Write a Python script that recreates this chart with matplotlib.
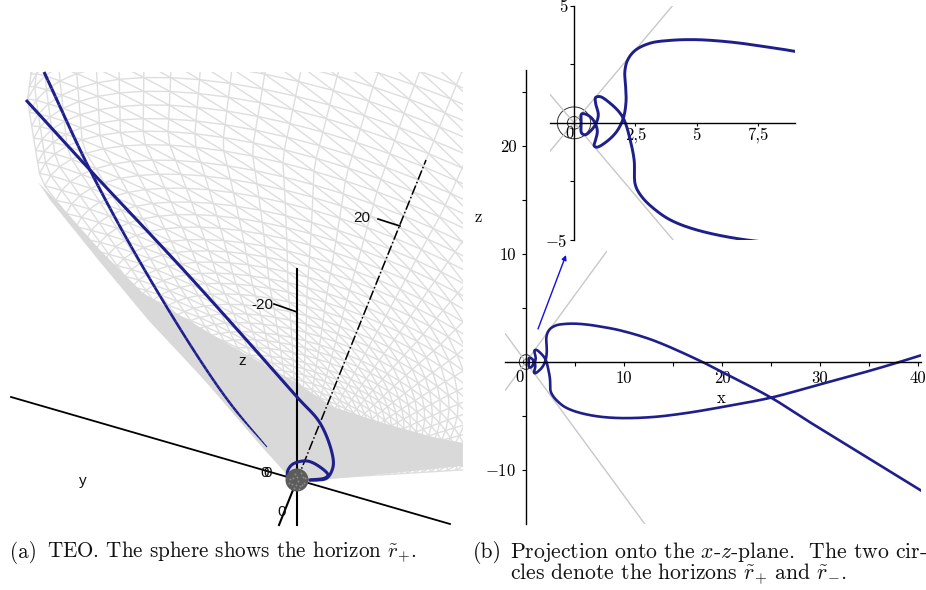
import matplotlib
matplotlib.use("Agg")
import matplotlib.pyplot as plt
from matplotlib.collections import LineCollection
from matplotlib.patches import Circle, Polygon
import numpy as np

W, H = 926, 590
plt.rcParams['mathtext.fontset'] = 'cm'
plt.rcParams['axes.unicode_minus'] = False

BLUE = '#1f1f8c'
MESH = '#dedede'
SOLID = '#d9d9d9'

# panel (b): curve in x, z
curve_x = [40.3, 35, 30, 25, 20, 18, 13, 9.6, 7.73, 6.37, 5.0, 3.92, 3.10, 2.49, 2.18, 2.07, 2.10,
           2.12, 2.01, 1.74, 1.33, 0.93, 0.82, 0.86, 0.95, 0.88, 0.72, 0.48, 0.31, 0.29, 0.31, 0.45, 0.65, 0.88,
           0.99, 0.88, 0.88, 1.06, 1.47, 1.88, 2.08, 2.29, 2.45, 2.50, 2.76, 3.24, 3.92, 5.0, 7.05, 9.6, 13, 16.4,
           20, 25, 30, 35, 38.1, 40.3]
curve_z = [-11.9, -8.95, -6.17, -3.3, -0.93, 0, 2.0, 2.93, 3.26, 3.45, 3.55, 3.52, 3.40, 3.09, 2.67, 2.17, 1.62,
           0.91, 0.20, -0.37, -0.80, -1.04, -0.98, -0.80, -0.37, -0.06, 0.20, 0.37, 0.38, 0.06, -0.44, -0.51, -0.37, -0.06,
           0.34, 0.84, 1.08, 1.12, 0.84, 0.41, 0.03, -0.73, -1.58, -2.65, -3.15, -3.65, -4.14, -4.57, -5.0, -5.19, -5.09, -4.72,
           -4.17, -3.3, -2.07, -0.83, 0, 0.62]
horizons = [0.68, 0.27]
rising_x = [-2.1, 8.2]
rising_z = [-2.6, 10.2]
falling_x = [-2.1, 12.2]
falling_z = [2.6, -15.1]

main_xticks = [5, 10, 15, 20, 25, 30, 35, 40]
main_xlabels = ['', '10', '', '20', '', '30', '', '40']
main_zticks = [-10, -5, 5, 10, 15, 20, 25]
main_zlabels = ['$-10$', '', '', '10', '', '20', '']
inset_xticks = [2.5, 5, 7.5]
inset_xlabels = ['2,5', '5', '7,5']
inset_zticks = [-5, -2.5, 2.5, 5]
inset_zlabels = ['$-5$', '', '', '5']

strand_one_x = [26, 90, 190, 297, 320, 332, 333, 327, 318, 310]
strand_one_y = [100, 170, 277, 397, 423, 453, 467, 478, 480, 480]
strand_two_x = [44, 90, 140, 200, 233, 267]
strand_two_y = [72, 170, 262, 360, 407, 447]
loop_x = [287, 288, 293, 307, 320, 328, 325, 310]
loop_y = [476, 470, 464, 461, 467, 475, 478, 480]
solid_x = [38, 60, 100, 143, 183, 233, 297, 333, 383, 433, 463, 463, 310, 290, 262, 200, 150, 100, 50]
solid_y = [182, 205, 250, 293, 317, 347, 383, 407, 423, 437, 443, 466, 481, 478, 447, 375, 322, 262, 200]
ring_tips = [0, 20, 40, 60, 70, 75, 80, 85, 90, 96, 102, 108, 114, 121, 128, 135, 143, 151, 159, 168, 177, 186,
             196, 206, 216, 227, 238, 249, 261, 273, 285, 298, 311, 324, 338, 352, 366, 381, 396, 411, 426, 441,
             456, 471, 486, 501, 516, 531, 546, 561, 576, 591, 606, 621, 636]
tip_stops = [0, 150, 300, 450, 640]
tip_share = [0.50, 0.54, 0.60, 0.66, 0.68]
ring_centre = [0, 100, 182, 251, 320, 440]
ring_width = [0, 210, 350, 392, 410, 420]
speck_x = [-5, 3, 6, -2, 1, -7, 7, -3, 4, 0, -8, 8, 2, -4, 5, -1]
speck_y = [4, 6, -3, -6, 1, -1, 3, 8, -7, -3, 3, -2, 9, -2, 5, 5]


def smooth(xs, ys, n=12):
    # centripetal catmull-rom through the read points, only to round the drawn line
    p = np.column_stack([xs, ys]).astype(float)
    p = np.vstack([2 * p[0] - p[1], p, 2 * p[-1] - p[-2]])
    out = []
    for i in range(1, len(p) - 2):
        t0 = 0.0
        t1 = t0 + np.linalg.norm(p[i] - p[i - 1]) ** 0.5
        t2 = t1 + np.linalg.norm(p[i + 1] - p[i]) ** 0.5
        t3 = t2 + np.linalg.norm(p[i + 2] - p[i + 1]) ** 0.5
        for s in np.linspace(t1, t2, n, endpoint=False):
            a1 = ((t1 - s) * p[i - 1] + (s - t0) * p[i]) / (t1 - t0)
            a2 = ((t2 - s) * p[i] + (s - t1) * p[i + 1]) / (t2 - t1)
            a3 = ((t3 - s) * p[i + 1] + (s - t2) * p[i + 2]) / (t3 - t2)
            b1 = ((t2 - s) * a1 + (s - t0) * a2) / (t2 - t0)
            b2 = ((t3 - s) * a2 + (s - t1) * a3) / (t3 - t1)
            out.append(((t2 - s) * b1 + (s - t1) * b2) / (t2 - t1))
    out.append(p[-2])
    out = np.array(out)
    return out[:, 0], out[:, 1]


def px_axes(fig, left, top, right, bottom):
    return fig.add_axes([left / W, 1 - bottom / H, (right - left) / W, (bottom - top) / H])


fig = plt.figure(figsize=(W / 100, H / 100), dpi=100)

# mesh of the 3D surface, clipped to the view box
ax_mesh = px_axes(fig, 0, 72, 463, 530)
ax_mesh.set_xlim(0, 463)
ax_mesh.set_ylim(530, 72)
ax_mesh.axis('off')

apex = np.array([297.0, 480.0])
v = np.array([0.374, -0.927])
u = np.array([0.927, 0.374])
tips = np.array(ring_tips, dtype=float)
s0 = tips * np.interp(tips, tip_stops, tip_share)
a = np.interp(s0, ring_centre, ring_width)
b = tips - s0
t = np.linspace(0, np.pi, 33)
grid = np.empty((len(tips), len(t), 2))
for i in range(len(tips)):
    for j in range(len(t)):
        grid[i, j] = apex + s0[i] * v + a[i] * np.cos(t[j]) * u + b[i] * np.sin(t[j]) * v
lines = [grid[i] for i in range(len(tips))]
lines += [grid[:, j] for j in range(len(t))]
for i in range(len(tips) - 1):
    for j in range(len(t) - 1):
        lines.append([grid[i, j], grid[i + 1, j + 1]])
ax_mesh.add_collection(LineCollection(lines, colors=MESH, linewidths=1.0, zorder=1))
ax_mesh.add_patch(Polygon(np.column_stack([solid_x, solid_y]), closed=True, fc=SOLID, ec='none', zorder=2))

# everything else of panel (a) and the captions, in screen positions
ax = px_axes(fig, 0, 0, W, H)
ax.set_xlim(0, W)
ax.set_ylim(H, 0)
ax.axis('off')
ax.plot([297, 297], [269, 525], color='black', lw=1.5)
ax.plot([274, 297], [304, 312], color='black', lw=1.2)
ax.plot([11, 450], [397, 524], color='black', lw=1.3)
ax.plot([279, 297], [525, 480], color='black', lw=1.5)
ax.plot([297, 426], [480, 160], color='black', lw=1.1, ls='-.')
ax.plot([378, 400], [219, 226], color='black', lw=1.2)

# the far strand thins out towards the sphere
sx, sy = smooth(strand_two_x, strand_two_y)
pts = np.column_stack([sx, sy])
widths = np.interp(sy[:-1], [72, 410, 447], [2.2, 1.8, 0.7])
ax.add_collection(LineCollection([pts[k:k + 2] for k in range(len(pts) - 1)], colors=BLUE, linewidths=widths))
sx, sy = smooth(strand_one_x, strand_one_y)
ax.plot(sx, sy, color=BLUE, lw=2.2, solid_capstyle='butt')
sx, sy = smooth(loop_x, loop_y)
ax.plot(sx, sy, color=BLUE, lw=2.2)

ax.add_patch(Circle((297, 480), 11.5, fc='#5c5c5c', ec='none', zorder=5))
ax.scatter(297 + np.array(speck_x), 480 + np.array(speck_y), s=2, color='#8a8a8a', lw=0, zorder=6)

sans = dict(family='Liberation Sans', fontsize=11, color='#111111', ha='center', va='center')
ax.text(262, 305, '-20', **sans)
ax.text(362, 218, '20', **sans)
ax.text(242, 361, 'z', **sans)
ax.text(83, 481, 'y', **sans)
ax.text(265, 473, '0', **sans)
ax.text(267.5, 473, '0', **sans)
ax.text(282, 512, '0', **sans)

cap = dict(family='cmr10', color='#111111', va='baseline', ha='left')
ax.text(10, 558, '(a)', fontsize=15.2, **cap)
ax.text(47, 558, r'TEO. The sphere shows the horizon $\tilde{r}_{+}$.', fontsize=15.2, **cap)
ax.text(473, 558, '(b)', fontsize=15.6, **cap)
ax.text(510, 558, r'Projection onto the $x$-$z$-plane.  The two cir-', fontsize=15.6, **cap)
ax.text(510, 580, r'cles denote the horizons $\tilde{r}_{+}$ and $\tilde{r}_{-}$.', fontsize=15.6, **cap)
ax.annotate('', xy=(566, 255), xytext=(538, 329),
            arrowprops=dict(arrowstyle='-|>', color='#1010e0', lw=1.0, mutation_scale=7, shrinkA=0, shrinkB=0))


def style_axes(axb, line_w):
    axb.patch.set_alpha(0)
    axb.spines['top'].set_visible(False)
    axb.spines['right'].set_visible(False)
    axb.spines['left'].set_position(('data', 0))
    axb.spines['bottom'].set_position(('data', 0))
    axb.spines['left'].set_linewidth(line_w)
    axb.spines['bottom'].set_linewidth(line_w)


def draw_curve(axb, lw):
    axb.plot(rising_x, rising_z, color='#c8c8c8', lw=1.0)
    axb.plot(falling_x, falling_z, color='#c8c8c8', lw=1.0)
    for r in horizons:
        axb.add_patch(Circle((0, 0), r, fc='none', ec='#333333', lw=0.7))
    sx, sz = smooth(curve_x, curve_z)
    axb.plot(sx, sz, color=BLUE, lw=lw)


# panel (b), main plot
ax_main = px_axes(fig, 505.4, 70.4, 921, 524)
ax_main.set_xlim(-2.1, 40.3)
ax_main.set_ylim(-15, 27)
style_axes(ax_main, 1.0)
draw_curve(ax_main, 1.9)
ax_main.set_xticks(main_xticks)
ax_main.set_xticklabels(main_xlabels, family='cmr10', fontsize=12)
ax_main.set_yticks(main_zticks)
ax_main.set_yticklabels(main_zlabels, family='cmr10', fontsize=12)
ax_main.tick_params(axis='x', direction='out', length=3, pad=3)
ax_main.tick_params(axis='y', direction='out', length=3, pad=4)
ax_main.text(-0.7, -1.4, '0', family='cmr10', fontsize=12, ha='center', va='center')
ax_main.text(19.9, -3.4, 'x', family='cmr10', fontsize=12, ha='center', va='center')
ax_main.text(-4.9, 13.4, 'z', family='cmr10', fontsize=12, ha='center', va='center', clip_on=False)

# panel (b), enlarged plot near the origin
ax_in = px_axes(fig, 549.5, 5.7, 794.8, 240)
ax_in.set_xlim(-1, 9)
ax_in.set_ylim(-5, 5)
style_axes(ax_in, 1.0)
draw_curve(ax_in, 2.1)
ax_in.set_xticks(inset_xticks)
ax_in.set_xticklabels(inset_xlabels, family='cmr10', fontsize=12)
ax_in.set_yticks(inset_zticks)
ax_in.set_yticklabels(inset_zlabels, family='cmr10', fontsize=12)
ax_in.tick_params(axis='x', direction='out', length=2.5, pad=1)
ax_in.tick_params(axis='y', direction='out', length=3, pad=2)
ax_in.text(-0.18, -0.45, '0', family='cmr10', fontsize=12, ha='center', va='center')

fig.savefig('out.png', dpi=100)
